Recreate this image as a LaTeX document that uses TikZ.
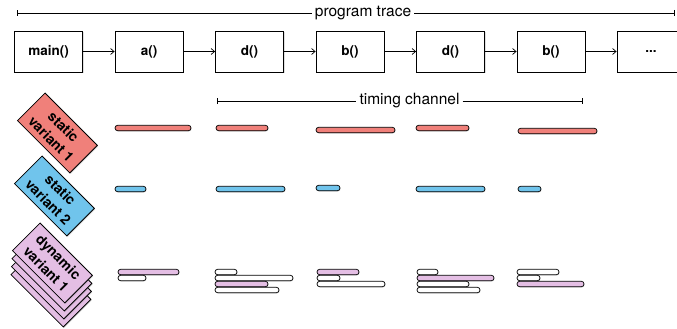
\documentclass[tikz,border=0pt]{standalone}
\usepackage{fontspec}
\setmainfont{TeX Gyre Heros}
\usetikzlibrary{arrows.meta,shadows}
\definecolor{redv}{RGB}{240,128,122}
\definecolor{bluev}{RGB}{112,196,236}
\definecolor{pinkv}{RGB}{228,190,228}
\newcommand\tbar[4]{\draw[barst, fill=#4] (#1,#3-2.75) rectangle (#2,#3+2.75);}
\begin{document}
\begin{tikzpicture}[x=1pt,y=-1pt,
  fnbox/.style={draw, line width=0.8pt, minimum width=68pt, minimum height=41pt,
    font=\fontsize{13.5}{15}\selectfont\bfseries, fill=white,
    drop shadow={shadow xshift=1pt, shadow yshift=-1pt, opacity=0.25}},
  flow/.style={line width=0.7pt, -{Straight Barb[length=3.5pt,width=6pt]}},
  span/.style={line width=0.7pt},
  spanlabel/.style={font=\fontsize{15.5}{17}\selectfont, inner sep=3pt},
  varlabel/.style={draw, line width=0.8pt, rotate=-45, minimum width=74pt,
    minimum height=39pt, align=center, inner sep=1pt,
    font=\fontsize{14}{17.5}\selectfont\bfseries,
    drop shadow={shadow xshift=1pt, shadow yshift=-1pt, opacity=0.3}},
  barst/.style={draw, line width=0.7pt, rounded corners=2.75pt,
    drop shadow={shadow xshift=0.6pt, shadow yshift=-0.8pt, opacity=0.35}}]
\useasboundingbox (0,0) rectangle (677,329);
\clip (0,0) rectangle (677,329);

% program trace span
\coordinate (ptl) at (17,13);
\coordinate (ptr) at (675,13);
\node[spanlabel] (pt) at (363,13) {program trace};
\draw[span, {Bar[width=6pt]}-] (ptl) -- (pt);
\draw[span, -{Bar[width=6pt]}] (pt) -- (ptr);

% function boxes
\node[fnbox] (b1) at (48.5,51.5) {main()};
\node[fnbox] (b2) at (149,51.5) {a()};
\node[fnbox] (b3) at (249.5,51.5) {d()};
\node[fnbox] (b4) at (350,51.5) {b()};
\node[fnbox] (b5) at (450.5,51.5) {d()};
\node[fnbox] (b6) at (551,51.5) {b()};
\node[fnbox] (b7) at (651,51.5) {...};
\draw[flow] (b1) -- (b2);
\draw[flow] (b2) -- (b3);
\draw[flow] (b3) -- (b4);
\draw[flow] (b4) -- (b5);
\draw[flow] (b5) -- (b6);
\draw[flow] (b6) -- (b7);

% timing channel span
\coordinate (tcl) at (217,101);
\coordinate (tcr) at (583,101);
\node[spanlabel] (tc) at (409.5,101) {timing channel};
\draw[span, {Bar[width=6pt]}-] (tcl) -- (tc);
\draw[span, -{Bar[width=6pt]}] (tc) -- (tcr);

% variant labels
\node[varlabel, fill=redv] (sv1) at (57.4,133) {static\\variant 1};
\node[varlabel, fill=bluev] (sv2) at (54.4,196) {static\\variant 2};
\foreach \k in {3,2,1} {
  \node[varlabel, fill=pinkv, name=dynback\k] at (52.4-0.5*\k,263+8*\k) {};
}
\node[varlabel, fill=pinkv] (dv1) at (52.4,263) {dynamic\\variant 1};

% static variant 1 bars
\tbar{115}{191}{128}{redv}
\tbar{216}{268}{128}{redv}
\tbar{316}{395}{130}{redv}
\tbar{416}{469}{128}{redv}
\tbar{518}{597}{131}{redv}

% static variant 2 bars
\tbar{115}{146}{189}{bluev}
\tbar{216}{285}{189}{bluev}
\tbar{316}{340}{188}{bluev}
\tbar{416}{485}{189}{bluev}
\tbar{518}{541}{189}{bluev}

% dynamic variant bars
\tbar{118}{179}{272}{pinkv}
\tbar{118}{146}{278}{white}

\tbar{215}{237}{272}{white}
\tbar{215}{293}{278}{white}
\tbar{215}{268}{284}{pinkv}
\tbar{215}{279}{290}{white}

\tbar{317}{359}{272}{pinkv}
\tbar{317}{340}{278}{white}
\tbar{317}{385}{284}{white}

\tbar{417}{438}{272}{white}
\tbar{417}{494}{278}{pinkv}
\tbar{417}{469}{284}{white}
\tbar{417}{480}{290}{white}

\tbar{517}{559}{272}{white}
\tbar{517}{540}{278}{white}
\tbar{517}{584}{284}{pinkv}
\end{tikzpicture}
\end{document}
